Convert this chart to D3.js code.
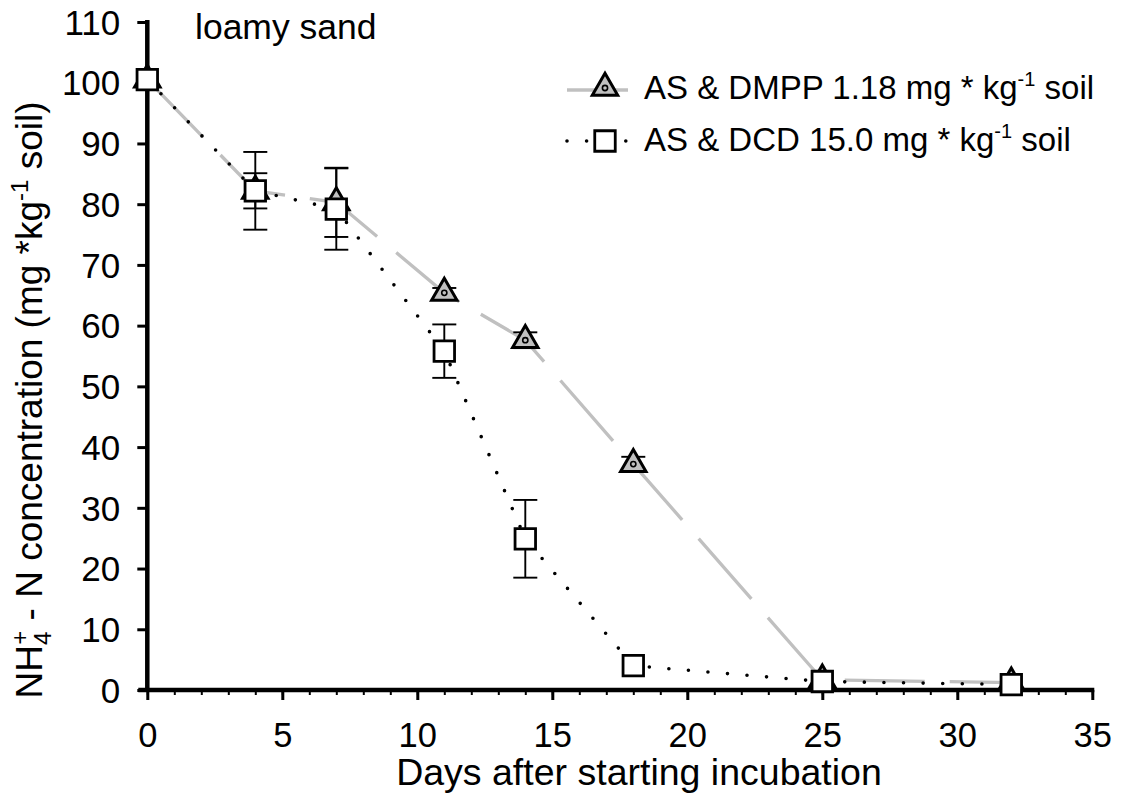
<!DOCTYPE html>
<html>
<head>
<meta charset="utf-8">
<script src="https://cdn.jsdelivr.net/npm/d3@7"></script>
<style>
  html, body { margin: 0; padding: 0; background: #fff; }
  svg { display: block; font-family: "Liberation Sans", Arial, Helvetica, sans-serif; }
</style>
</head>
<body>
<svg id="chart" width="1126" height="794"></svg>
<script>
// ---- data ----
const days = [0, 4, 7, 11, 14, 18, 25, 32];
const dmppValues = [100.5, 82.2, 80.3, 65.4, 57.6, 37.2, 1.7, 1.2];
const dmppErrors = [0, 2.9, 5.7, 0.8, 1.3, 1.2, 0, 0];
const dcdValues = [100.5, 82.2, 79.2, 55.8, 24.9, 4.0, 1.4, 0.9];
const dcdErrors = [0, 6.4, 6.7, 4.4, 6.4, 0, 0, 0];
const xTicks = [0, 5, 10, 15, 20, 25, 30, 35];
const xMinorTicks = d3.range(0, 36, 1);
const yTicks = [0, 10, 20, 30, 40, 50, 60, 70, 80, 90, 100, 110];
const seriesNames = ["AS & DMPP 1.18 mg * kg", "AS & DCD 15.0 mg * kg"];
const panelLabel = "loamy sand";
const xTitle = "Days after starting incubation";

// ---- setup ----
const svg = d3.select("#chart");
const x = d3.scaleLinear().domain([0, 35]).range([147.3, 1092.3]);
const y = d3.scaleLinear().domain([0, 110]).range([690, 22]);
const GRAY = "#c0c0c0";

const dmpp = days.map((d, i) => ({ d, v: dmppValues[i], e: dmppErrors[i] }));
const dcd = days.map((d, i) => ({ d, v: dcdValues[i], e: dcdErrors[i] }));

// ---- axes ----
const gxMinor = svg.append("g").attr("transform", `translate(0,${y(0)})`)
  .call(d3.axisBottom(x).tickValues(xMinorTicks).tickSize(5).tickFormat(""));
gxMinor.select(".domain").remove();
gxMinor.selectAll(".tick line").attr("stroke", "#000").attr("stroke-width", 2);

const gx = svg.append("g").attr("transform", `translate(0,${y(0)})`)
  .call(d3.axisBottom(x).tickValues(xTicks).tickSize(10).tickSizeOuter(0));
gx.select(".domain").remove();
gx.selectAll(".tick line").attr("stroke", "#000").attr("stroke-width", 3);
gx.selectAll(".tick text")
  .attr("y", 57).attr("dy", 0)
  .attr("fill", "#000").attr("font-size", 34.5)
  .attr("font-family", "Liberation Sans, Arial, sans-serif");

const gy = svg.append("g").attr("transform", `translate(${x(0)},0)`)
  .call(d3.axisLeft(y).tickValues(yTicks).tickSize(10).tickPadding(17).tickSizeOuter(0));
gy.select(".domain").remove();
gy.selectAll(".tick line").attr("stroke", "#000").attr("stroke-width", 3);
gy.selectAll(".tick text")
  .attr("dy", "0.35em")
  .attr("fill", "#000").attr("font-size", 35)
  .attr("font-family", "Liberation Sans, Arial, sans-serif");

// axis lines
svg.append("line").attr("x1", x(0)).attr("x2", x(0)).attr("y1", y(110) - 2).attr("y2", y(0) + 2)
  .attr("stroke", "#000").attr("stroke-width", 4.5);
svg.append("line").attr("x1", x(0) - 9).attr("x2", x(35) + 2).attr("y1", y(0)).attr("y2", y(0))
  .attr("stroke", "#000").attr("stroke-width", 4.5);

// ---- lines ----
const line = d3.line().x(p => x(p.d)).y(p => y(p.v));
svg.append("path").datum(dmpp).attr("d", line)
  .attr("fill", "none").attr("stroke", GRAY).attr("stroke-width", 3.3)
  .attr("stroke-dasharray", "80,25");
svg.append("path").datum(dcd).attr("d", line)
  .attr("fill", "none").attr("stroke", "#000").attr("stroke-width", 3.6)
  .attr("stroke-linecap", "round").attr("stroke-dasharray", "0,19.6");

// ---- error bars ----
function errorBars(data) {
  const g = svg.append("g").attr("stroke", "#000").attr("stroke-width", 1.9);
  const ed = data.filter(p => p.e > 0);
  g.selectAll(".v").data(ed).join("line")
    .attr("x1", p => x(p.d)).attr("x2", p => x(p.d))
    .attr("y1", p => y(p.v + p.e)).attr("y2", p => y(p.v - p.e));
  g.selectAll(".t").data(ed).join("line")
    .attr("x1", p => x(p.d) - 12).attr("x2", p => x(p.d) + 12)
    .attr("y1", p => y(p.v + p.e)).attr("y2", p => y(p.v + p.e));
  g.selectAll(".b").data(ed).join("line")
    .attr("x1", p => x(p.d) - 12).attr("x2", p => x(p.d) + 12)
    .attr("y1", p => y(p.v - p.e)).attr("y2", p => y(p.v - p.e));
}
errorBars(dmpp);
errorBars(dcd);

// ---- markers ----
const sq = d3.symbol().type(d3.symbolSquare).size(420);

function drawTriangle(g, cx, cy, scale) {
  const s = d3.symbol().type(d3.symbolTriangle).size(280 * scale * scale);
  g.append("path").attr("d", s()).attr("transform", `translate(${cx},${cy})`)
    .attr("fill", GRAY).attr("stroke", "#000").attr("stroke-width", 3);
  g.append("circle").attr("cx", cx).attr("cy", cy).attr("r", 2.6 * scale)
    .attr("fill", GRAY).attr("stroke", "#000").attr("stroke-width", 1.6);
}
const gTri = svg.append("g");
dmpp.forEach(p => drawTriangle(gTri, x(p.d), y(p.v), 1));

svg.append("g").selectAll("path").data(dcd).join("path")
  .attr("d", sq()).attr("transform", p => `translate(${x(p.d)},${y(p.v)})`)
  .attr("fill", "#fff").attr("stroke", "#000").attr("stroke-width", 2.8);

// ---- panel label ----
svg.append("text").attr("x", 195).attr("y", 39).attr("font-size", 35.5).attr("fill", "#000")
  .text(panelLabel);

// ---- legend ----
const lg = svg.append("g");
const lgX1 = 567, lgX2 = 628, lgMid = 605, textX = 644;
const row1 = 90, row2 = 141;
lg.append("line").attr("x1", lgX1).attr("x2", lgX2).attr("y1", row1).attr("y2", row1)
  .attr("stroke", GRAY).attr("stroke-width", 3.3);
drawTriangle(lg, lgMid, row1 - 2, 1);
lg.append("line").attr("x1", lgX1).attr("x2", lgX2).attr("y1", row2).attr("y2", row2)
  .attr("stroke", "#000").attr("stroke-width", 3.6).attr("stroke-linecap", "round")
  .attr("stroke-dasharray", "0,19.6");
lg.append("path").attr("d", sq()).attr("transform", `translate(${lgMid},${row2})`)
  .attr("fill", "#fff").attr("stroke", "#000").attr("stroke-width", 2.8);

function legendText(yb, label) {
  const t = lg.append("text").attr("x", textX).attr("y", yb).attr("font-size", 33).attr("fill", "#000");
  t.append("tspan").text(label);
  t.append("tspan").attr("font-size", 20).attr("dy", -13).text("-1");
  t.append("tspan").attr("dy", 13).text(" soil");
}
legendText(row1 + 9, seriesNames[0]);
legendText(row2 + 10, seriesNames[1]);

// ---- axis titles ----
svg.append("text").attr("x", 639).attr("y", 785).attr("text-anchor", "middle")
  .attr("font-size", 37.5).attr("fill", "#000").text(xTitle);

const yt = svg.append("text").attr("transform", "translate(42,400) rotate(-90)")
  .attr("text-anchor", "middle").attr("font-size", 37).attr("fill", "#000");
yt.append("tspan").text("NH");
yt.append("tspan").attr("font-size", 24).attr("dy", 9).text("4");
yt.append("tspan").attr("font-size", 24).attr("dx", -13).attr("dy", -23).text("+");
yt.append("tspan").attr("dy", 14).text(" - N concentration (mg *kg");
yt.append("tspan").attr("font-size", 24).attr("dy", -14).text("-1");
yt.append("tspan").attr("dy", 14).text(" soil)");
</script>
</body>
</html>
